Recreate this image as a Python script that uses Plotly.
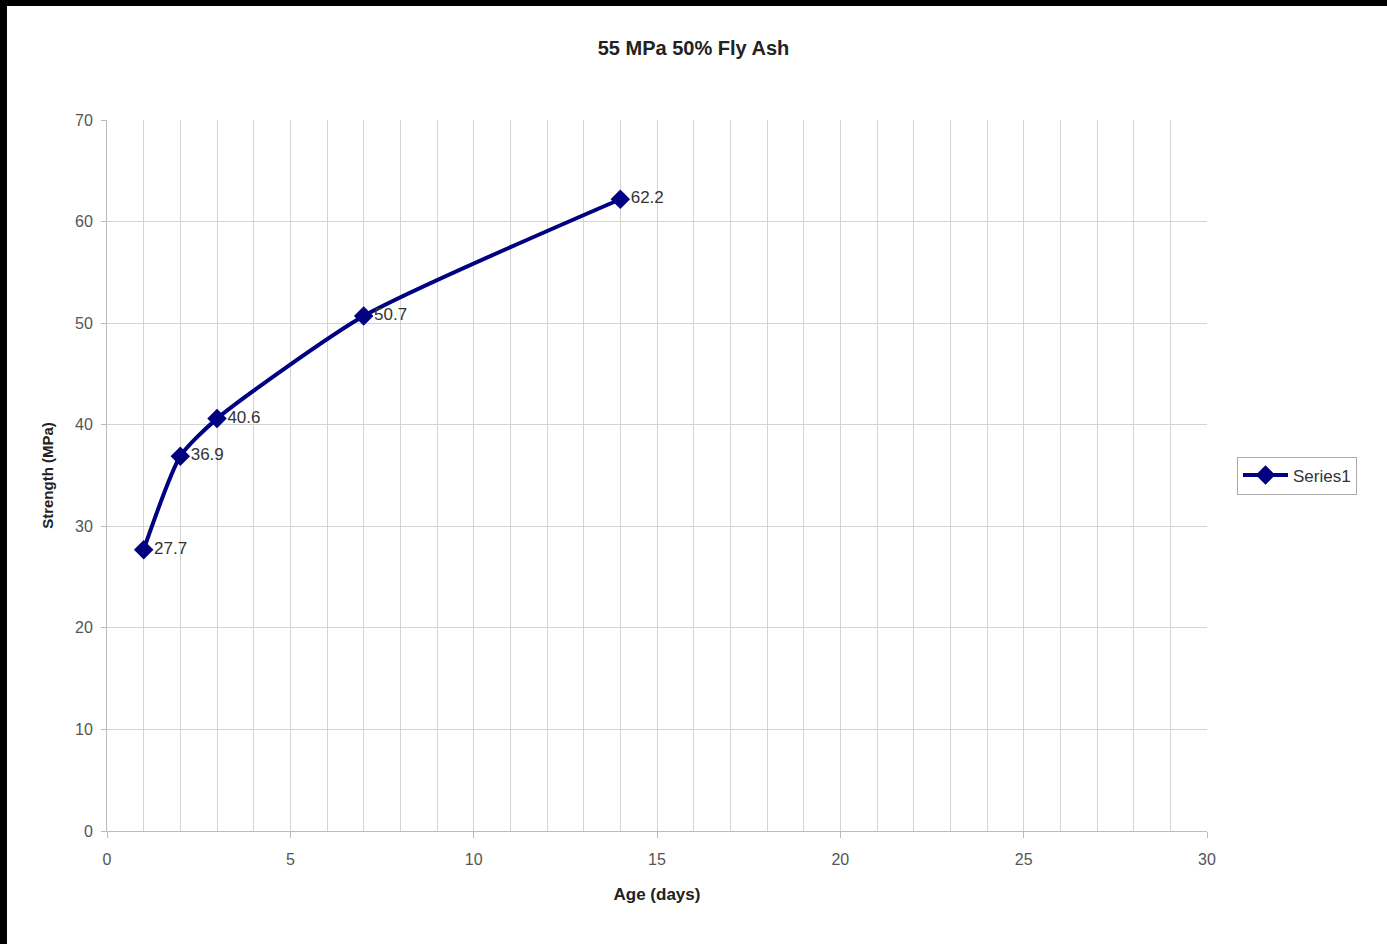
import plotly.graph_objects as go

age_days = [1, 2, 3, 7, 14]
strength_mpa = [27.7, 36.9, 40.6, 50.7, 62.2]
labels = [f"{v:.1f}" for v in strength_mpa]
series_name = "Series1"
title_text = "55 MPa 50% Fly Ash"
x_title = "Age (days)"
y_title = "Strength (MPa)"

W, H = 1387, 944
L, R, T, B = 107, 180, 120, 113
pw, ph = W - L - R, H - T - B

def px_x(p):
    return (p - L) / pw

def px_y(p):
    return (H - p - B) / ph

FONT = "Liberation Sans, Arial"

fig = go.Figure()
fig.add_trace(go.Scatter(
    x=age_days, y=strength_mpa, name=series_name,
    mode="lines+markers+text",
    line=dict(color="#000080", width=4, shape="spline", smoothing=0.6),
    marker=dict(symbol="diamond", size=15, color="#000080"),
    text=labels, textposition="middle right",
    textfont=dict(family=FONT, size=17, color="#333333"),
    showlegend=True,
))

fig.update_layout(
    width=W, height=H,
    margin=dict(l=L, r=R, t=T, b=B),
    paper_bgcolor="white", plot_bgcolor="white",
    title=dict(text=f"<b>{title_text}</b>", x=0.5, xref="container", xanchor="center",
               y=1 - 48 / H, yref="container", yanchor="middle",
               font=dict(family=FONT, size=20, color="#222222")),
    legend=dict(x=px_x(1237), y=0.5, xanchor="left", yanchor="middle",
                bordercolor="#aaaaaa", borderwidth=1, bgcolor="white", itemwidth=45,
                font=dict(family=FONT, size=17, color="#333333")),
    xaxis=dict(range=[0, 30], dtick=5, tick0=0, showgrid=True, gridcolor="#d4d4d4",
               minor=dict(dtick=1, showgrid=True, gridcolor="#d4d4d4", ticks=""),
               showline=True, linecolor="#bbbbbb", ticks="outside", ticklen=6, tickcolor="#bbbbbb",
               ticklabelstandoff=8,
               zeroline=False,
               tickfont=dict(family=FONT, size=16, color="#555555"),
               title=dict(text=f"<b>{x_title}</b>", standoff=20,
                          font=dict(family=FONT, size=17, color="#222222"))),
    yaxis=dict(range=[0, 70], dtick=10, showgrid=True, gridcolor="#d4d4d4",
               showline=True, linecolor="#bbbbbb", ticks="outside", ticklen=5, tickcolor="#bbbbbb",
               ticklabelstandoff=5,
               zeroline=False,
               tickfont=dict(family=FONT, size=16, color="#555555"),
               title=dict(text=f"<b>{y_title}</b>", standoff=17,
                          font=dict(family=FONT, size=15, color="#222222"))),
    shapes=[
        dict(type="rect", xref="paper", yref="paper", x0=px_x(-5), x1=px_x(W + 5),
             y0=px_y(6), y1=px_y(-5), fillcolor="black", line_width=0, layer="above"),
        dict(type="rect", xref="paper", yref="paper", x0=px_x(-5), x1=px_x(7),
             y0=px_y(H + 5), y1=px_y(-5), fillcolor="black", line_width=0, layer="above"),
    ],
)

fig.write_html("out.html", config={"displayModeBar": False},
               post_script="document.body.style.margin='0';document.body.style.overflow='hidden';")
